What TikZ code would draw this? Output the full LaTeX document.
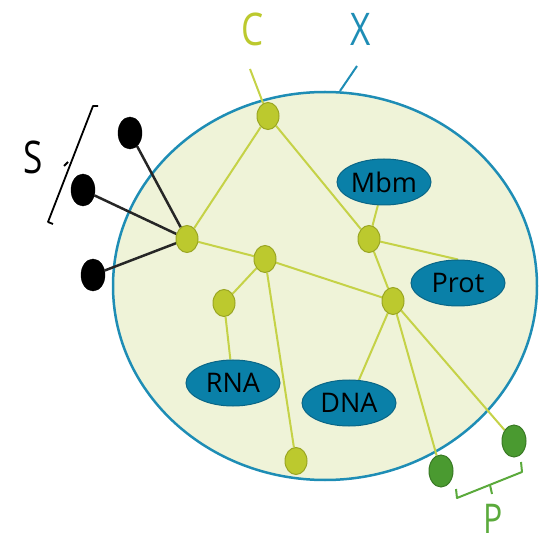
\documentclass[tikz,border=0pt]{standalone}
\usepackage{fontspec}
\setmainfont{Open Sans}
\usetikzlibrary{shapes.geometric,backgrounds}
\definecolor{cellfill}{HTML}{EFF3D8}
\definecolor{cellborder}{HTML}{1E8DB5}
\definecolor{cfill}{HTML}{BCC92E}
\definecolor{cborder}{HTML}{9AA623}
\definecolor{cline}{HTML}{C5D247}
\definecolor{bfill}{HTML}{0A80A8}
\definecolor{bborder}{HTML}{0A6687}
\definecolor{gfill}{HTML}{4A9A30}
\definecolor{gborder}{HTML}{3A7A25}
\definecolor{pcol}{HTML}{5BAA3C}
\newcommand{\narrow}[1]{\scalebox{0.78}[1]{#1}}
\tikzset{
  cnode/.style={ellipse, fill=cfill, draw=cborder, line width=1pt, minimum width=22pt, minimum height=27pt, inner sep=0pt},
  snode/.style={ellipse, fill=black, draw=black, minimum width=24pt, minimum height=32pt, inner sep=0pt},
  pnode/.style={ellipse, fill=gfill, draw=gborder, line width=1pt, minimum width=24pt, minimum height=32pt, inner sep=0pt},
  mol/.style={ellipse, fill=bfill, draw=bborder, line width=1pt, minimum width=94pt, minimum height=46pt, inner sep=0pt, font=\fontsize{27}{29}\selectfont, text=black},
  cedge/.style={draw=cline, line width=2pt},
  sedge/.style={draw=black!85, line width=2.5pt},
  lbl/.style={font=\fontsize{45}{48}\selectfont, inner sep=0pt}
}
\begin{document}
\begin{tikzpicture}[x=1pt,y=-1pt]
\useasboundingbox (0,0) rectangle (549,545);
% molecules
\node[mol] (mbm) at (384,182) {Mbm};
\node[mol] (prot) at (458,283) {Prot};
\node[mol] (rna) at (233,383) {RNA};
\node[mol] (dna) at (349,403) {DNA};
% C nodes
\node[cnode] (n1) at (268,116) {};
\node[cnode] (n2) at (187,239) {};
\node[cnode] (n3) at (265,259) {};
\node[cnode] (n4) at (224,303) {};
\node[cnode] (n5) at (369,239) {};
\node[cnode] (n6) at (393,301) {};
\node[cnode] (n7) at (296,461) {};
% S nodes
\node[snode] (s1) at (130,133) {};
\node[snode] (s2) at (83,190) {};
\node[snode] (s3) at (93,275) {};
% P nodes
\node[pnode] (p1) at (441,471) {};
\node[pnode] (p2) at (514,441) {};
% labels
\node[lbl, text=cfill] (lc) at (253,29) {\narrow{C}};
\node[lbl, text=cellborder] (lx) at (361,29) {\narrow{X}};
\node[lbl, text=black] (ls) at (33,157) {\narrow{S}};
\node[lbl, text=pcol, font=\fontsize{41}{44}\selectfont] (lp) at (493,519) {\narrow{P}};
\coordinate (ca) at (250,69);
\coordinate (xa) at (357,66);
\coordinate (xb) at (340,91);
\begin{pgfonlayer}{background}
\node[ellipse, fill=cellfill, draw=cellborder, line width=2.5pt, minimum width=424pt, minimum height=388pt] (cell) at (325,286) {};
\draw[cellborder, line width=2pt] (xa) -- (xb);
\draw[cedge] (ca) -- (n1);
\draw[cedge] (n1) -- (n2);
\draw[cedge] (n1) -- (n5);
\draw[cedge] (n2) -- (n3);
\draw[cedge] (n3) -- (n6);
\draw[cedge] (n3) -- (n4);
\draw[cedge] (n3) -- (n7);
\draw[cedge] (n4) -- (rna);
\draw[cedge] (n5) -- (mbm);
\draw[cedge] (n5) -- (prot.north);
\draw[cedge] (n5) -- (n6);
\draw[cedge] (n6) -- (dna);
\draw[cedge] (n6) -- (p1);
\draw[cedge] (n6) -- (p2);
\draw[sedge] (s1) -- (n2);
\draw[sedge] (s2) -- (n2);
\draw[sedge] (s3) -- (n2);
\end{pgfonlayer}
% S bracket
\coordinate (sb1) at (98,106);
\coordinate (sb2) at (93,106);
\coordinate (sb3) at (48,222);
\coordinate (sb4) at (53,224);
\coordinate (sm1) at (68,162);
\coordinate (sm2) at (64,166);
\draw[black, line width=1.8pt, line join=round] (sb1) -- (sb2) -- (sb3) -- (sb4);
\draw[black, line width=1.8pt] (sm1) -- (sm2);
% P bracket
\coordinate (pb1) at (456,489);
\coordinate (pb2) at (457,498);
\coordinate (pb3) at (522,472);
\coordinate (pb4) at (521,462);
\coordinate (pm1) at (490,485);
\coordinate (pm2) at (492,494);
\draw[pcol, line width=2pt, line join=round] (pb1) -- (pb2) -- (pb3) -- (pb4);
\draw[pcol, line width=2pt] (pm1) -- (pm2);
\end{tikzpicture}
\end{document}
